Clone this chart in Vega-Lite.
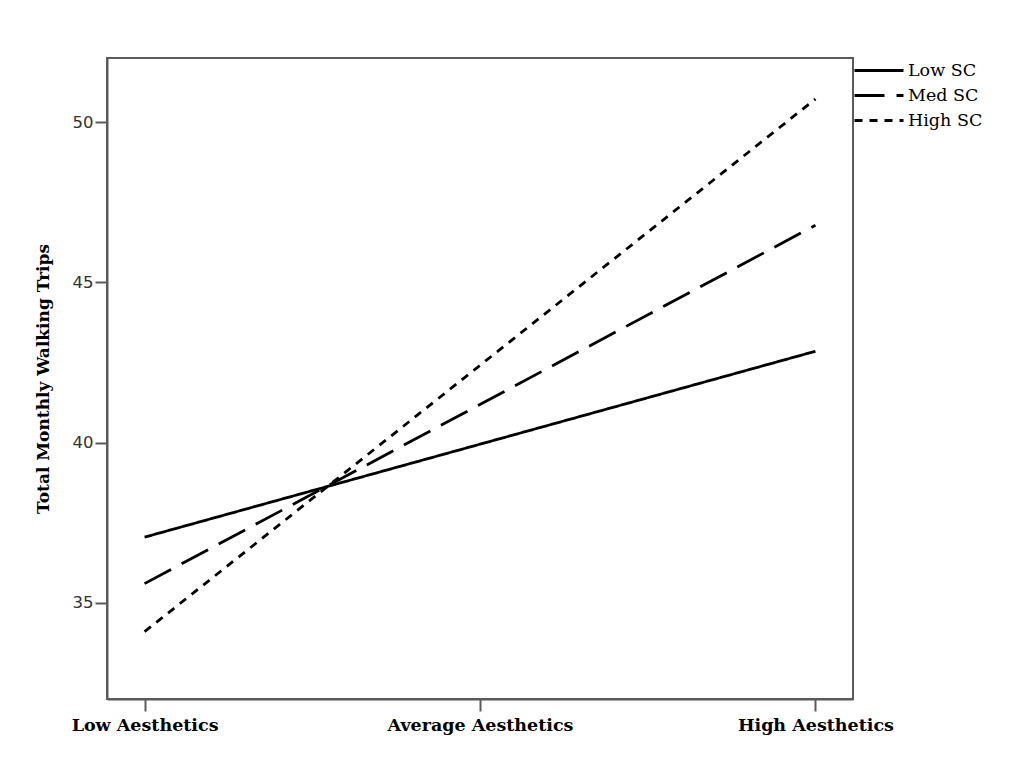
{
  "$schema": "https://vega.github.io/schema/vega-lite/v6.json",
  "width": 746,
  "height": 641,
  "autosize": {"type": "none"},
  "padding": {"left": 107, "top": 58, "right": 168, "bottom": 73},
  "background": "white",
  "config": {
    "view": {"stroke": "#5a5a5a", "strokeWidth": 2},
    "axis": {"grid": false, "domainColor": "#5a5a5a", "domainWidth": 2, "tickColor": "#5a5a5a", "tickWidth": 2, "tickSize": 12}
  },
  "data": {
    "values": [
      {"aesthetics": "Low Aesthetics", "sc": "Low SC", "trips": 37.05},
      {"aesthetics": "High Aesthetics", "sc": "Low SC", "trips": 42.85},
      {"aesthetics": "Low Aesthetics", "sc": "Med SC", "trips": 35.6},
      {"aesthetics": "High Aesthetics", "sc": "Med SC", "trips": 46.78},
      {"aesthetics": "Low Aesthetics", "sc": "High SC", "trips": 34.1},
      {"aesthetics": "High Aesthetics", "sc": "High SC", "trips": 50.72}
    ]
  },
  "mark": {"type": "line", "color": "black", "strokeWidth": 2.8},
  "encoding": {
    "x": {
      "field": "aesthetics",
      "type": "ordinal",
      "scale": {"type": "point", "domain": ["Low Aesthetics", "Average Aesthetics", "High Aesthetics"], "padding": 0.112},
      "axis": {"title": null, "labelAngle": 0, "labelLimit": 400, "labelFont": "DejaVu Serif", "labelFontWeight": "bold", "labelFontSize": 17.5, "labelColor": "black", "labelPadding": 5}
    },
    "y": {
      "field": "trips",
      "type": "quantitative",
      "scale": {"domain": [32, 52], "nice": false, "zero": false},
      "axis": {"title": "Total Monthly Walking Trips", "values": [35, 40, 45, 50], "labelFont": "DejaVu Sans", "labelFontSize": 16.5, "labelColor": "#333", "labelPadding": 2, "titleFont": "DejaVu Serif", "titleFontWeight": "bold", "titleFontSize": 17, "titleColor": "black", "titlePadding": 20}
    },
    "strokeDash": {
      "field": "sc",
      "type": "nominal",
      "scale": {"domain": ["Low SC", "Med SC", "High SC"], "range": [[1, 0], [30, 12], [8, 7]]},
      "legend": {
        "title": null,
        "orient": "none",
        "legendX": 746,
        "legendY": 0,
        "padding": 0,
        "symbolType": "stroke",
        "symbolSize": 2401,
        "symbolStrokeWidth": 2.8,
        "symbolStrokeColor": "black",
        "clipHeight": 25,
        "labelFont": "DejaVu Serif",
        "labelFontSize": 17.5,
        "labelColor": "black",
        "labelOffset": 3,
        "rowPadding": 0
      }
    },
    "detail": {"field": "sc"}
  }
}
